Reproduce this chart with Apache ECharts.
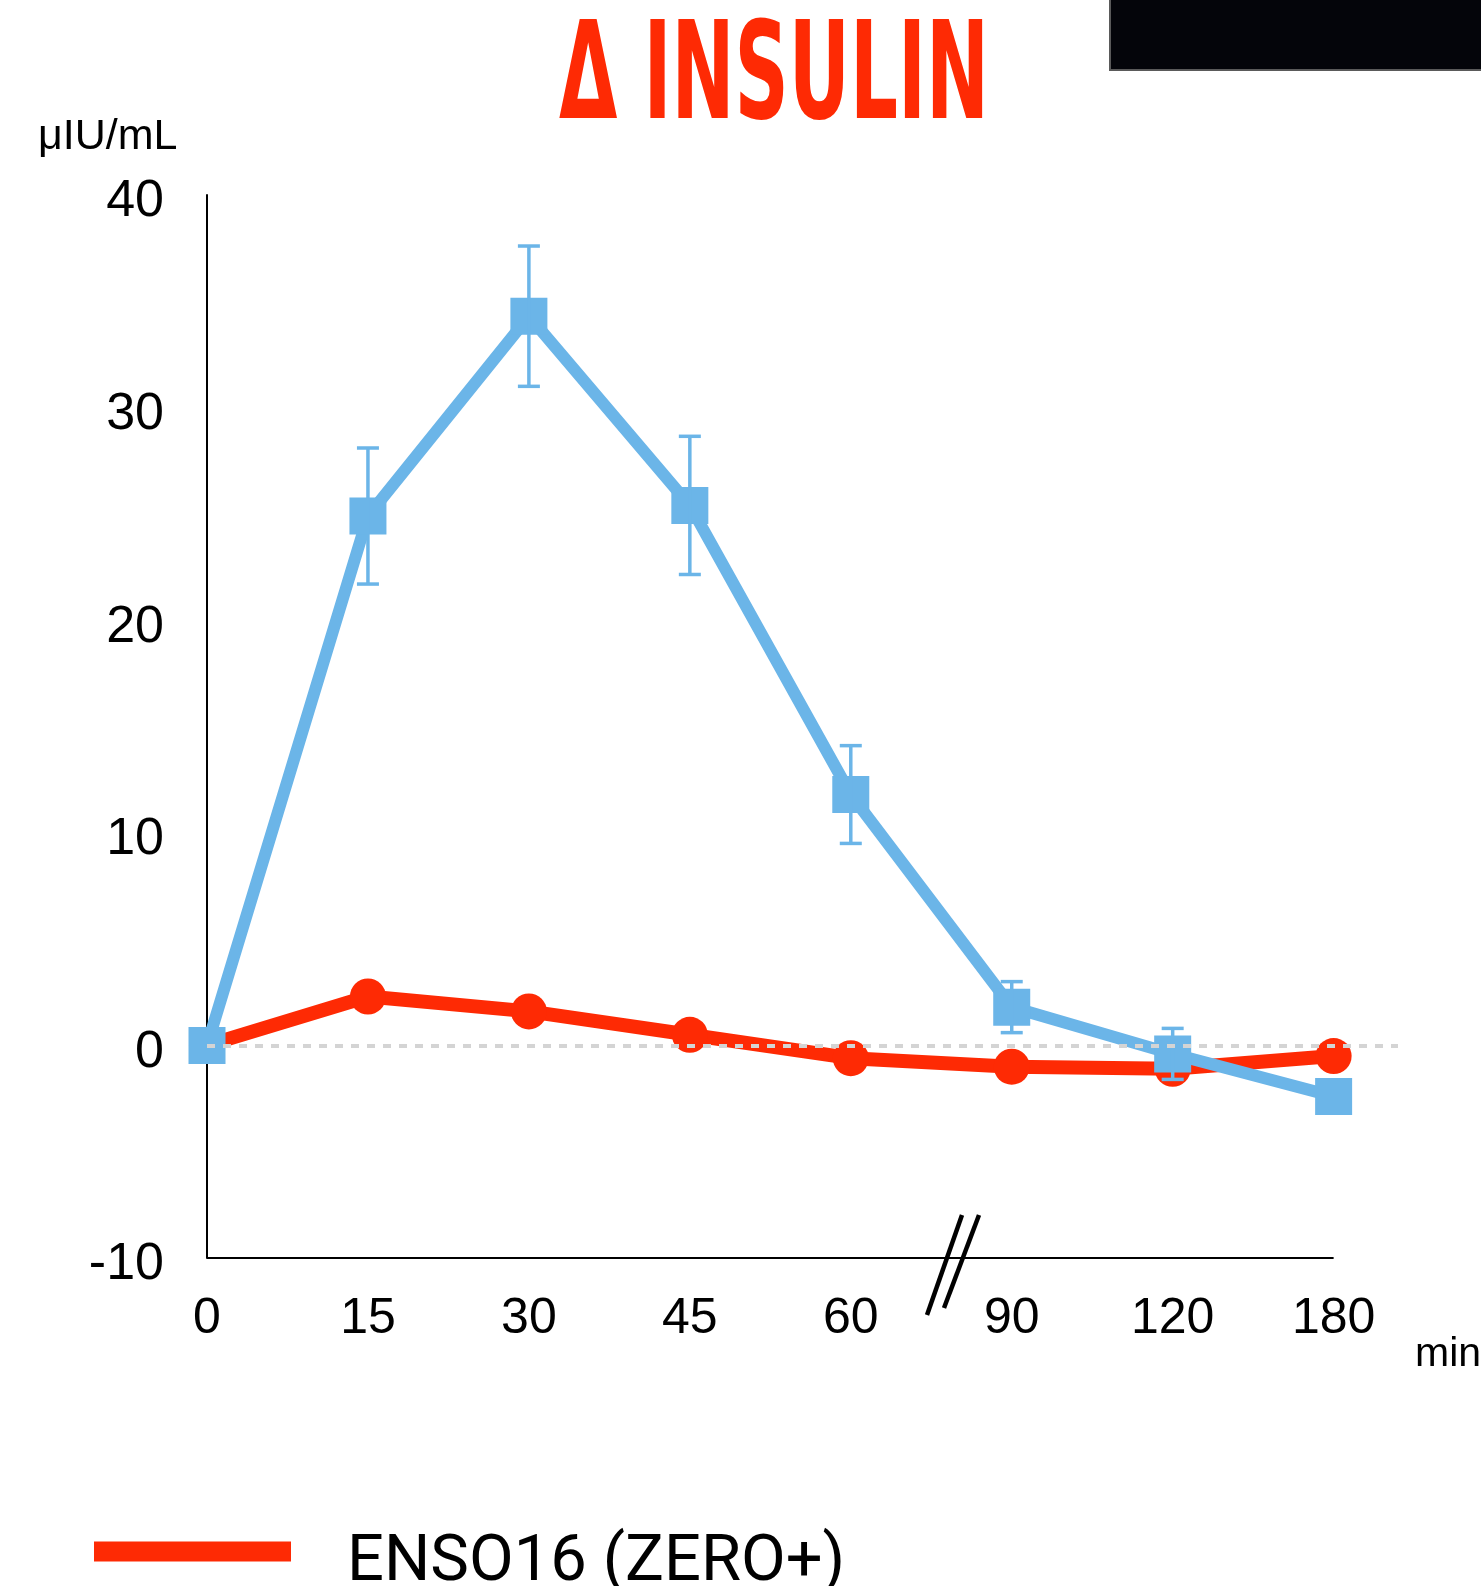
<!DOCTYPE html>
<html>
<head>
<meta charset="utf-8">
<script src="https://cdn.jsdelivr.net/npm/echarts@6/dist/echarts.min.js"></script>
<style>
  html, body { margin: 0; padding: 0; background: #fff; }
  #chart { width: 1481px; height: 1586px; }
</style>
</head>
<body>
<div id="chart"></div>
<script>
const times = ["0", "15", "30", "45", "60", "90", "120", "180"];
const ensoValues = [0, 2.3, 1.6, 0.5, -0.6, -1.0, -1.1, -0.5];
const controlValues = [0, 24.9, 34.3, 25.4, 11.8, 1.8, -0.4, -2.4];
const controlErrors = [0, 3.2, 3.3, 3.25, 2.3, 1.2, 1.2, 0];
const yMin = -10;
const yMax = 40;
const yStep = 10;

const RED = "#fe2a04";
const BLUE = "#6bb5e8";
const FONT = "Liberation Sans";

const chart = echarts.init(document.getElementById("chart"), null, { renderer: "canvas" });

const redData = ensoValues.map((v, i) => [i, v]);
const blueData = controlValues.map((v, i) => [i, v]);
const errData = controlValues
  .map((v, i) => [i, v - controlErrors[i], v + controlErrors[i]])
  .filter((d, i) => controlErrors[i] > 0);

function renderErrorBar(params, api) {
  const x = api.value(0);
  const lo = api.coord([x, api.value(1)]);
  const hi = api.coord([x, api.value(2)]);
  const half = 11;
  const style = { stroke: BLUE, lineWidth: 3.5 };
  return {
    type: "group",
    children: [
      { type: "line", shape: { x1: hi[0], y1: hi[1], x2: lo[0], y2: lo[1] }, style },
      { type: "line", shape: { x1: hi[0] - half, y1: hi[1], x2: hi[0] + half, y2: hi[1] }, style },
      { type: "line", shape: { x1: lo[0] - half, y1: lo[1], x2: lo[0] + half, y2: lo[1] }, style },
    ],
  };
}

chart.setOption({
  animation: false,
  backgroundColor: "#fff",
  grid: { left: 207, right: 83, top: 195, bottom: 328 },
  legend: {
    data: ["ENSO16 (ZERO+)"],
    left: 94,
    top: 1507,
    padding: 0,
    icon: "rect",
    itemWidth: 197,
    itemHeight: 20,
    itemStyle: { color: RED },
    formatter: "{t|{name}}",
    textStyle: {
      rich: {
        t: {
          fontFamily: "Roboto",
          fontSize: 65,
          color: "#000",
          lineHeight: 74,
          padding: [24, 0, 0, 51],
        },
      },
    },
  },
  xAxis: {
    type: "value",
    min: 0,
    max: 7.4,
    interval: 1,
    axisLine: { show: false },
    axisTick: { show: false },
    splitLine: { show: false },
    axisLabel: {
      color: "#000",
      fontFamily: FONT,
      fontSize: 50,
      margin: 36,
      showMaxLabel: false,
      formatter: (v) => (Number.isInteger(v) && v < times.length ? times[v] : ""),
    },
  },
  yAxis: {
    type: "value",
    min: yMin,
    max: yMax,
    interval: yStep,
    axisLine: { show: true, onZero: false, lineStyle: { color: "#000", width: 2 } },
    axisTick: { show: false },
    splitLine: { show: false },
    axisLabel: {
      margin: 43,
      formatter: "{v|{value}}",
      rich: {
        v: {
          color: "#000",
          fontFamily: FONT,
          fontSize: 52,
          padding: [14, 0, 0, 0],
        },
      },
    },
  },
  series: [
    {
      name: "ENSO16 (ZERO+)",
      type: "line",
      data: redData,
      symbol: "circle",
      symbolSize: 36,
      lineStyle: { color: RED, width: 14 },
      itemStyle: { color: RED },
      z: 2,
      markLine: {
        silent: true,
        symbol: "none",
        label: { show: false },
        z: 1,
        data: [
          [
            { coord: [0, yMin], lineStyle: { color: "#000", width: 2, type: "solid" } },
            { coord: [times.length - 1, yMin] },
          ],
        ],
      },
    },
    {
      name: "Control",
      type: "line",
      data: blueData,
      symbol: "rect",
      symbolSize: 37,
      lineStyle: { color: BLUE, width: 12 },
      itemStyle: { color: BLUE },
      z: 3,
    },
    {
      name: "Control SEM",
      type: "custom",
      data: errData,
      renderItem: renderErrorBar,
      z: 4,
    },
    {
      name: "zero",
      type: "line",
      data: [],
      z: 10,
      markLine: {
        silent: true,
        symbol: "none",
        label: { show: false },
        lineStyle: { color: "#d4d4d4", width: 4, type: [8, 8] },
        data: [[{ coord: [0, 0] }, { coord: [7.4, 0] }]],
      },
    },
  ],
  graphic: [
    {
      type: "rect",
      shape: { x: 1110, y: -6, width: 400, height: 76 },
      style: { fill: "#04050a", stroke: "#5a5a5a", lineWidth: 2 },
    },
    {
      type: "text",
      x: 774,
      y: 83,
      scaleX: 0.62,
      style: {
        text: "Δ INSULIN",
        fill: RED,
        font: 'bold 135px "Liberation Sans Narrow", "DejaVu Sans Condensed", sans-serif',
        textAlign: "center",
        textVerticalAlign: "middle",
      },
    },
    {
      type: "text",
      left: 38,
      top: 116,
      style: { text: "μIU/mL", fill: "#000", font: '43px "Liberation Sans"' },
    },
    {
      type: "text",
      left: 1415,
      top: 1334,
      style: { text: "min", fill: "#000", font: '41px "Liberation Sans"' },
    },
    {
      type: "line",
      shape: { x1: 927, y1: 1315, x2: 962, y2: 1215 },
      style: { stroke: "#000", lineWidth: 4.5 },
    },
    {
      type: "line",
      shape: { x1: 944, y1: 1308, x2: 979, y2: 1215 },
      style: { stroke: "#000", lineWidth: 4.5 },
    },
  ],
});
</script>
</body>
</html>
